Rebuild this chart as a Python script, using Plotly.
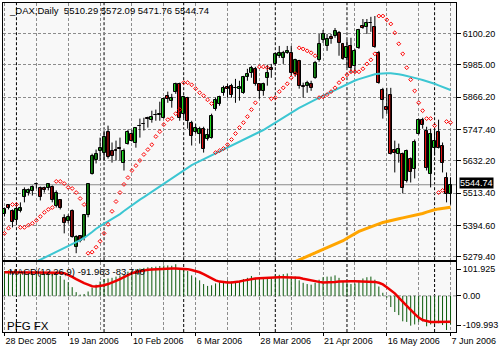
import pandas as pd
import plotly.graph_objects as go

# ---------------- data ----------------
HOLIDAYS = ["2006-04-14", "2006-04-17", "2006-05-01"]
DATES = [d for d in pd.bdate_range("2005-12-28", "2006-06-07") if d.strftime("%Y-%m-%d") not in HOLIDAYS]

OPEN = [5439,5469,5450,5414,5450,5498,5513,5520,5546,5531,
        5531,5531,5535,5465,5487,5421,5410,5450,5315,5355,
        5348,5432,5586,5637,5667,5663,5740,5667,5672,5681,
        5626,5696,5733,5700,5760,5768,5790,5784,5802,5800,
        5791,5872,5854,5887,5916,5806,5865,5773,5740,5733,
        5751,5714,5718,5824,5843,5883,5905,5909,5901,5898,
        5883,5942,5956,5971,5916,5890,5938,5975,5989,6019,
        6011,6030,6030,5953,6000,5909,5909,5916,5938,6004,
        6077,6055,6088,6092,6103,6063,6011,6055,5982,6048,
        6129,6125,6140,6125,6030,5894,5832,5876,5674,5659,
        5656,5557,5641,5604,5733,5784,5744,5586,5681,5740,
        5689,5568,5510.29]
HIGH = [5461,5472,5454,5469,5480,5535,5531,5542,5553,5538,
        5538,5549,5542,5524,5491,5436,5436,5454,5359,5359,
        5436,5549,5659,5674,5718,5744,5762,5700,5707,5718,
        5678,5747,5747,5755,5788,5791,5795,5817,5821,5850,
        5865,5887,5879,5920,5920,5872,5868,5780,5769,5758,
        5758,5751,5806,5865,5872,5909,5916,5916,5934,5927,
        5945,5971,5982,5978,5918,5920,5986,5989,6030,6055,
        6037,6055,6055,6008,6004,5920,5927,5927,6000,6099,
        6114,6099,6099,6121,6110,6066,6077,6085,6044,6118,
        6154,6154,6162,6165,6037,5901,5901,5901,5707,5696,
        5663,5674,5645,5711,5788,5791,5758,5751,5751,5784,
        5700,5590,5572.09]
LOW = [5428,5454,5388,5406,5443,5480,5505,5505,5531,5487,
       5516,5524,5480,5461,5454,5366,5403,5350,5293,5333,
       5340,5425,5582,5623,5634,5634,5641,5626,5634,5634,
       5597,5692,5703,5681,5718,5744,5755,5773,5780,5780,
       5788,5846,5828,5879,5780,5791,5751,5689,5733,5696,
       5663,5707,5714,5817,5835,5872,5865,5865,5846,5854,
       5879,5927,5938,5909,5861,5872,5909,5938,5982,6011,
       5989,6026,5945,5942,5898,5865,5883,5890,5934,5997,
       6066,6037,6063,6085,6019,6004,5975,5956,5956,6044,
       6118,6099,6107,6048,5916,5788,5806,5656,5590,5626,
       5513,5553,5553,5568,5729,5751,5597,5535,5652,5678,
       5590,5480,5471.76]
CLOSE = [5454,5461,5406,5454,5461,5524,5524,5535,5548,5498,
         5524,5546,5487,5516,5458,5403,5428,5352,5352,5337,
         5432,5546,5652,5656,5681,5722,5645,5652,5670,5678,
         5670,5740,5707,5755,5762,5769,5786,5795,5800,5803,
         5861,5861,5865,5916,5791,5868,5780,5725,5755,5751,
         5678,5729,5799,5857,5868,5901,5898,5876,5902,5905,
         5942,5953,5975,5916,5890,5916,5956,5967,6026,6030,
         6030,6037,5956,6004,5909,5903,5920,5901,5993,6063,
         6099,6081,6081,6110,6066,6008,6052,5975,6037,6114,
         6121,6140,6139,6052,5920,5857,5821,5659,5663,5678,
         5531,5667,5590,5703,5784,5765,5608,5733,5707,5681,
         5623,5509,5544.74]

SAR = [5366,5385,5472,5472,5388,5388,5396,5403,5414,5428,
       5443,5454,5461,5557,5557,5549,5535,5531,5516,5494,
       5472,5293,5297,5315,5337,5366,5399,5447,5483,5516,
       5546,5571,5597,5615,5634,5656,5674,5692,5722,5740,
       5766,5784,5788,5806,5821,5920,5920,5912,5898,5883,
       5872,5857,5843,5663,5670,5678,5692,5711,5733,5755,
       5773,5795,5821,5846,5978,5978,5975,5861,5865,5887,
       5901,5916,5938,5953,6048,6044,6037,6030,6019,5865,
       5868,5876,5887,5901,5920,5934,5949,5960,5960,5960,
       5971,5989,6004,6026,6165,6165,6151,6136,6103,6063,
       6026,5975,5931,5890,5846,5817,5788,5788,5762,5516,
       5524,5777,5773]

# cyan moving average, bars 8..112
MA_FAST_START = 8
MA_FAST = [5262,5269,5276,5283,5291,5298,5305,5312,5320,5327,5334,5341,
           5349,5359,5371,5383,5394,5402,5410,5418,5426,5437,5448,5459,
           5470,5480,5490,5499,5509,5519,5529,5538,5548,5558,5568,5578,
           5588,5597,5607,5617,5624,5631,5638,5645,5652,5659,5666,5673,
           5680,5687,5694,5701,5708,5716,5723,5730,5737,5746,5755,5764,
           5773,5783,5793,5803,5811,5819,5827,5835,5843,5851,5858,5865,
           5872,5879,5886,5895,5903,5910,5916,5922,5928,5933,5938,5943,
           5947,5951,5953,5955,5955,5955,5954,5951,5948,5945,5942,5938,
           5934,5930,5926,5921,5916,5910,5905,5899,5893]
# orange moving average, bars 73..112
MA_SLOW_START = 73
MA_SLOW = [5262,5268,5275,5281,5288,5294,5301,5307,5313,5319,5325,5332,
           5339,5348,5357,5365,5373,5379,5385,5391,5396,5401,5406,5410,
           5414,5417,5420,5423,5426,5429,5432,5435,5439,5444,5449,5453,
           5456,5458,5460,5462]

MACD_MAIN = [80,82,76,74,72,74,76,78,80,78,
             76,76,72,70,64,52,44,28,12,4,
             6,14,26,36,46,54,56,58,62,66,
             68,78,82,86,88,90,92,93,94,96,
             98,98,97,101.925,88,88,80,66,58,50,
             38,32,34,40,44,48,50,46,44,46,
             54,58,64,58,54,54,58,60,66,68,
             70,72,62,62,50,42,38,36,42,52,
             60,62,62,66,58,48,46,38,40,50,
             56,60,62,52,30,10,-6,-36,-52,-62,
             -82,-84,-96,-92,-84,-82,-98,-92,-90,-88,
             -94,-109.993,-91.963]
MACD_SIGNAL = [76,76,76,76,76,76,76,75,75,75,
               75,75,74,74,74,73,68,61,54,47,
               41,36,31,30,31,34,38,42,48,54,
               61,67,73,77,80,82,84,85,86,86,
               87,87,88,88,88,88,86,83,80,76,
               70,63,56,50,46,44,43,43,44,46,
               49,52,54,56,57,58,59,60,60,60,
               60,60,60,59,58,55,52,50,47,45,
               43,43,44,45,46,47,47,47,47,47,
               46,46,45,45,42,37,28,18,8,-6,
               -20,-33,-45,-58,-70,-78,-82,-84,-84,-84,
               -84,-84,-83.74]

PRICE_TICKS = [6100.20, 5985.00, 5866.20, 5747.40, 5632.20, 5513.40, 5394.60, 5279.40]
SYMBOL = "_DAX,Daily"
BROKER = "PFG FX"

# ---------------- style ----------------
FONT = "Liberation Sans, Arial, sans-serif"
GRID = "#8c8c8c"
DASH = "3px,2px"
BULL = "#22DD22"
BEAR = "#E01010"

N = len(DATES)
X = list(range(N))

fig = go.Figure()

# wicks
wx, wy = [], []
for i in X:
    wx += [i, i, None]
    wy += [LOW[i], HIGH[i], None]
fig.add_trace(go.Scatter(x=wx, y=wy, mode="lines", line=dict(color="black", width=1),
                         hoverinfo="skip", showlegend=False, xaxis="x", yaxis="y"))

# bodies
body_base = [min(o, c) for o, c in zip(OPEN, CLOSE)]
body_h = [max(abs(c - o), 0.6) for o, c in zip(OPEN, CLOSE)]
body_col = [BULL if c >= o else BEAR for o, c in zip(OPEN, CLOSE)]
fig.add_trace(go.Bar(x=X, y=body_h, base=body_base, width=0.75,
                     marker=dict(color=body_col, line=dict(color="black", width=1)),
                     showlegend=False, xaxis="x", yaxis="y"))

# moving averages
fig.add_trace(go.Scatter(x=list(range(MA_FAST_START, MA_FAST_START + len(MA_FAST))), y=MA_FAST,
                         mode="lines", line=dict(color="#3CC6D2", width=2),
                         showlegend=False, xaxis="x", yaxis="y"))
fig.add_trace(go.Scatter(x=list(range(MA_SLOW_START, MA_SLOW_START + len(MA_SLOW))), y=MA_SLOW,
                         mode="lines", line=dict(color="#FFA500", width=3),
                         showlegend=False, xaxis="x", yaxis="y"))

# parabolic SAR
fig.add_trace(go.Scatter(x=X, y=SAR, mode="markers",
                         marker=dict(symbol="diamond-open", size=3, color="#FF0000",
                                     line=dict(width=1, color="#FF0000")),
                         showlegend=False, xaxis="x", yaxis="y"))

# MACD histogram as 1px lines
hx, hy = [], []
for i in X:
    hx += [i, i, None]
    hy += [0, MACD_MAIN[i], None]
fig.add_trace(go.Scatter(x=hx, y=hy, mode="lines", line=dict(color="#0A5A0A", width=1),
                         hoverinfo="skip", showlegend=False, xaxis="x2", yaxis="y2"))
fig.add_trace(go.Scatter(x=X, y=MACD_SIGNAL, mode="lines", line=dict(color="#EE0000", width=2.5),
                         showlegend=False, xaxis="x2", yaxis="y2"))

# ---------------- layout ----------------
W, H = 500, 350
ML, MR, MT, MB = 2, 43, 2, 18
plot_h = H - MT - MB
main_bottom_px, macd_top_px = 260, 262
main_dom = [(H - MB - main_bottom_px) / plot_h, 1]
macd_dom = [0, (H - MB - macd_top_px) / plot_h]
macd_px = (H - MB) - macd_top_px

xr = [-0.375, N + 0.375]
major = list(range(0, N, 16))
minor = list(range(0, N, 8))
ticktext = [DATES[i].strftime("%-d %b %Y") for i in major]

y_top = 6220.2 - 3.665 * 2
y_bot = 6220.2 - 3.665 * 260

mx = max(max(MACD_MAIN), max(MACD_SIGNAL))
mn = min(min(MACD_MAIN), min(MACD_SIGNAL))
u = (mx - mn) / (macd_px - 4)
r0, r1 = mn - 2 * u, mx + 2 * u
unit = (r1 - r0) / macd_px

axis_common = dict(showline=True, mirror=True, linecolor="black", linewidth=1, zeroline=False)

fig.update_layout(
    width=W, height=H, margin=dict(l=ML, r=MR, t=MT, b=MB),
    paper_bgcolor="white", plot_bgcolor="#F8F8F8",
    barmode="overlay", bargap=0, showlegend=False,
    font=dict(family=FONT, size=9, color="black"),
    xaxis=dict(domain=[0, 1], range=xr, anchor="y", tickmode="array", tickvals=major,
               showticklabels=False, ticks="", showgrid=True, gridcolor=GRID, griddash=DASH, gridwidth=1,
               minor=dict(tickvals=minor, showgrid=True, gridcolor=GRID, griddash=DASH, ticks=""),
               **axis_common),
    yaxis=dict(domain=main_dom, range=[y_bot, y_top], side="right", tickmode="array",
               tickvals=PRICE_TICKS, ticktext=[f"{v:.2f}" for v in PRICE_TICKS],
               ticks="outside", ticklen=4, tickcolor="black", showgrid=True, gridcolor=GRID,
               griddash=DASH, **axis_common),
    xaxis2=dict(domain=[0, 1], range=xr, anchor="y2", matches="x", tickmode="array", tickvals=major,
                ticktext=ticktext, ticks="outside", ticklen=3, tickcolor="black",
                ticklabelposition="outside right",
                showgrid=True, gridcolor=GRID, griddash=DASH,
                minor=dict(tickvals=minor, showgrid=True, gridcolor=GRID, griddash=DASH, ticks=""),
                **axis_common),
    yaxis2=dict(domain=macd_dom, range=[r0, r1], side="right", tickmode="array",
                tickvals=[r1 - 7 * unit, 0, r0 + 7 * unit],
                ticktext=[f"{mx:.3f}", "0.00", f"{mn:.3f}"],
                ticks="outside", ticklen=4, tickcolor="black", showgrid=False, **axis_common),
)

shapes = []
# month separators
for i in range(1, N):
    if DATES[i].month != DATES[i - 1].month:
        for yr in ("y domain", "y2 domain"):
            shapes.append(dict(type="line", xref="x", yref=yr, x0=i, x1=i, y0=0, y1=1,
                               line=dict(color="black", width=1, dash=DASH), layer="below"))
# MACD zero line
shapes.append(dict(type="line", xref="x domain", yref="y2", x0=0, x1=1, y0=0, y1=0,
                   line=dict(color=GRID, width=1, dash=DASH), layer="below"))
# bid line
shapes.append(dict(type="line", xref="x domain", yref="y", x0=0, x1=1, y0=CLOSE[-1], y1=CLOSE[-1],
                   line=dict(color="#8a8a8a", width=1), layer="below"))
fig.update_layout(shapes=shapes)

pw = W - ML - MR
def px_x(p):
    return (p - ML) / pw
def px_y(p):
    return (H - MB - p) / plot_h

title = f"{SYMBOL}  {OPEN[-1]:.2f} {HIGH[-1]:.2f} {LOW[-1]:.2f} {CLOSE[-1]:.2f}"
macd_label = f"MACD(12,26,9) {MACD_MAIN[-1]:.3f} {MACD_SIGNAL[-1]:.3f}"
fig.add_annotation(text=title, xref="paper", yref="paper", x=px_x(6), y=px_y(10),
                   xanchor="left", yanchor="middle", showarrow=False, font=dict(size=9.5))
fig.add_annotation(text=macd_label, xref="paper", yref="paper", x=px_x(6), y=px_y(271),
                   xanchor="left", yanchor="middle", showarrow=False, font=dict(size=9.5))
fig.add_annotation(text=BROKER, xref="paper", yref="paper", x=px_x(4), y=px_y(326),
                   xanchor="left", yanchor="middle", showarrow=False, font=dict(size=11.5))
fig.add_annotation(text=f"{CLOSE[-1]:.2f}", xref="paper", yref="y", x=px_x(460), y=CLOSE[-1],
                   xanchor="left", yanchor="middle", showarrow=False, bgcolor="black",
                   font=dict(size=9, color="white"), borderpad=0, yshift=2)

fig.write_html("out.html")
